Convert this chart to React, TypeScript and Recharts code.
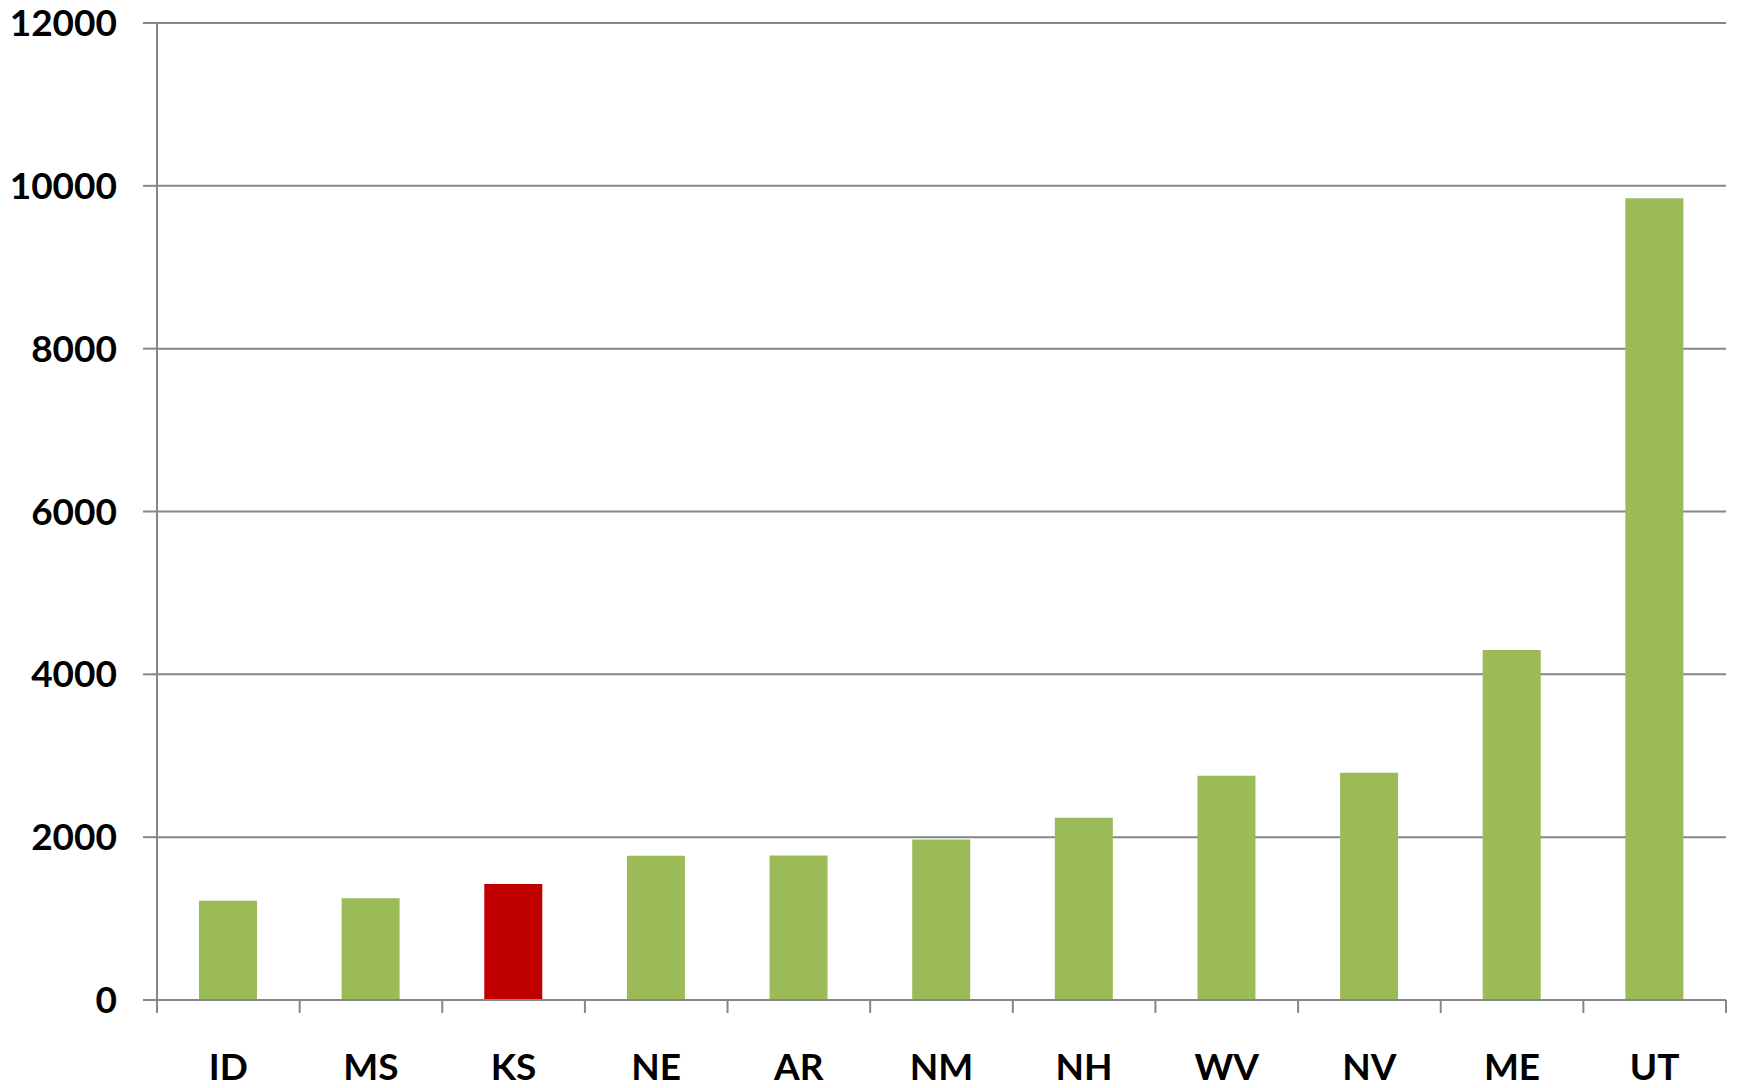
import React from 'react';
import { BarChart, Bar, XAxis, YAxis, CartesianGrid, Cell } from 'recharts';

const states = ['ID', 'MS', 'KS', 'NE', 'AR', 'NM', 'NH', 'WV', 'NV', 'ME', 'UT'];
const values = [1220, 1249, 1425, 1773, 1776, 1972, 2239, 2755, 2792, 4300, 9849];
const highlighted = ['KS'];
const yTicks = [0, 2000, 4000, 6000, 8000, 10000, 12000];

const data = states.map((s, i) => ({ state: s, value: values[i] }));

const W = 1740;
const H = 1088;
const M = { top: 23, right: 14, bottom: 0, left: 0 };
const X_AXIS_H = 88;
const Y_AXIS_W = 157;
const BAND = (W - M.left - M.right - Y_AXIS_W) / states.length;

const AXIS = '#868686';
const FONT = 'Lato, "Open Sans", sans-serif';

const XTick = (props: any) => {
  const { x, y, payload, index } = props;
  const last = index === states.length - 1;
  return (
    <g>
      <line x1={x - BAND / 2} y1={y} x2={x - BAND / 2} y2={y + 13} stroke={AXIS} strokeWidth={2} />
      {last && <line x1={x + BAND / 2} y1={y} x2={x + BAND / 2} y2={y + 13} stroke={AXIS} strokeWidth={2} />}
      <text x={x} y={y + 53} dy="0.72em" textAnchor="middle" fontFamily={FONT} fontWeight={700} fontSize={37} fill="#000">
        {payload.value}
      </text>
    </g>
  );
};

export default function App() {
  return (
    <div style={{ position: 'absolute', left: 0, top: 0, width: W, height: H, background: '#fff' }}>
      <BarChart width={W} height={H} data={data} margin={M}>
        <CartesianGrid vertical={false} stroke={AXIS} strokeWidth={2} />
        <XAxis
          dataKey="state"
          height={X_AXIS_H}
          axisLine={{ stroke: AXIS, strokeWidth: 2 }}
          tickLine={false}
          tickSize={0}
          tickMargin={0}
          interval={0}
          tick={<XTick />}
        />
        <YAxis
          width={Y_AXIS_W}
          domain={[0, 12000]}
          ticks={yTicks}
          interval={0}
          axisLine={{ stroke: AXIS, strokeWidth: 2 }}
          tickLine={{ stroke: AXIS, strokeWidth: 2 }}
          tickSize={14}
          tickMargin={26}
          tick={{ fill: '#000', fontFamily: FONT, fontWeight: 700, fontSize: 37 }}
        />
        <Bar dataKey="value" barSize={58} isAnimationActive={false}>
          {data.map((d, i) => (
            <Cell key={`cell-${i}`} fill={highlighted.includes(d.state) ? '#C00000' : '#9BBB59'} />
          ))}
        </Bar>
      </BarChart>
    </div>
  );
}
